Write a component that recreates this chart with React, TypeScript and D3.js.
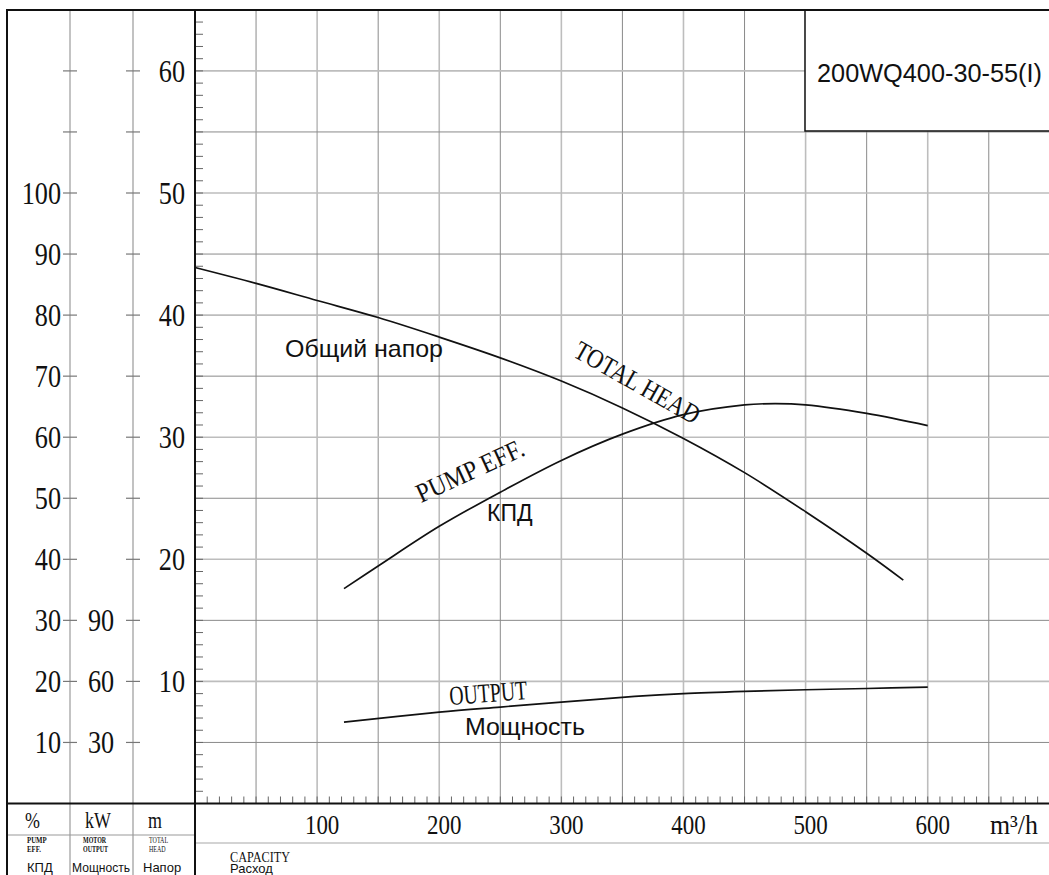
import React from 'react';
import * as d3 from 'd3';

// ---- data ----
const flowTicks = [100, 200, 300, 400, 500, 600];
const headTicks = [10, 20, 30, 40, 50, 60];
const effTicks = [10, 20, 30, 40, 50, 60, 70, 80, 90, 100];
const powerTicks = [30, 60, 90];
const sideTickPct = [10, 20, 30, 40, 50, 60, 70, 80, 90, 100, 110, 120];

const headFlow = [0, 50, 100, 150, 200, 250, 300, 350, 400, 450, 500, 550, 580];
const headValues = [43.9, 42.6, 41.2, 39.8, 38.2, 36.5, 34.6, 32.4, 29.9, 27.1, 23.9, 20.5, 18.3];

const effFlow = [122, 150, 200, 250, 300, 350, 400, 450, 475, 500, 550, 600];
const effValues = [35.2, 38.9, 45.4, 51.0, 56.2, 60.5, 63.7, 65.3, 65.5, 65.3, 63.9, 61.9];

const powerFlow = [122, 200, 250, 300, 360, 400, 450, 500, 550, 600];
const powerValues = [40.0, 44.9, 47.4, 49.8, 52.6, 54.0, 55.1, 55.9, 56.5, 57.2];

const modelName = '200WQ400-30-55(I)';

// ---- layout ----
const W = 1049;
const H = 875;
const LEFT = 195;
const BASE = 803.5;
const TOP = 10;
const PX_Q = 1.2212;
const PX_M = 12.21;

const SERIF = 'Liberation Serif, DejaVu Serif, serif';
const SANS = 'Liberation Sans, Arial, sans-serif';

const x = d3.scaleLinear().domain([0, 700]).range([LEFT, LEFT + 700 * PX_Q]);
const yHead = d3.scaleLinear().domain([0, 65]).range([BASE, BASE - 65 * PX_M]);
const yEff = d3.scaleLinear().domain([0, 130]).range([BASE, BASE - 65 * PX_M]);
const yPow = d3.scaleLinear().domain([0, 390]).range([BASE, BASE - 65 * PX_M]);

function ST(props: { x: number; y: number; sx?: number; size: number; anchor?: string; weight?: any; rot?: number; family?: string; len?: number; children: any }) {
  const { sx = 1, anchor = 'start', weight = 'normal', rot = 0, family = SERIF, len } = props;
  return (
    <text
      transform={`translate(${props.x},${props.y}) rotate(${rot}) scale(${sx},1)`}
      textAnchor={anchor}
      fontSize={props.size}
      fontWeight={weight}
      fontFamily={family}
      fill="#111"
      textLength={len}
      lengthAdjust={len ? 'spacingAndGlyphs' : undefined}
    >
      {props.children}
    </text>
  );
}

export default function App() {
  const headPts = headFlow.map((q, i) => [x(q), yHead(headValues[i])] as [number, number]);
  const effPts = effFlow.map((q, i) => [x(q), yEff(effValues[i])] as [number, number]);
  const powPts = powerFlow.map((q, i) => [x(q), yPow(powerValues[i])] as [number, number]);
  const line = d3.line().curve(d3.curveCatmullRom.alpha(0.5));

  const vGrid = d3.range(50, 701, 50);
  const hGrid = d3.range(5, 61, 5);
  const minorM = d3.range(1, 65, 1);
  const minorQ = d3.range(10, 700, 10);

  return (
    <svg width={W} height={H} style={{ position: 'absolute', left: 0, top: 0, background: '#fff' }}>
      <rect x={0} y={0} width={W} height={H} fill="#fff" />
      {/* grid */}
      {vGrid.map((q) => (
        <line key={'v' + q} x1={x(q)} x2={x(q)} y1={TOP} y2={BASE} stroke={q % 100 === 0 ? '#bdbdbd' : '#8a8a8a'} strokeWidth={q % 100 === 0 ? 1.6 : 1} />
      ))}
      {hGrid.map((m) => (
        <line key={'h' + m} x1={LEFT} x2={W} y1={yHead(m)} y2={yHead(m)} stroke={m % 10 === 0 ? '#bdbdbd' : '#8a8a8a'} strokeWidth={m % 10 === 0 ? 1.6 : 1} />
      ))}
      {/* minor ticks */}
      {minorM.map((m) => (
        <line key={'mm' + m} x1={LEFT} x2={LEFT + 8} y1={yHead(m)} y2={yHead(m)} stroke="#666" strokeWidth={1} />
      ))}
      {minorQ.map((q) => (
        <line key={'mq' + q} x1={x(q)} x2={x(q)} y1={BASE} y2={BASE - 7} stroke="#666" strokeWidth={1} />
      ))}

      {/* left panel */}
      <line x1={70} x2={70} y1={TOP} y2={H} stroke="#aaa" strokeWidth={1.4} />
      <line x1={133} x2={133} y1={TOP} y2={H} stroke="#999" strokeWidth={1.2} />
      {sideTickPct.map((p) => (
        <g key={'st' + p}>
          <line x1={63} x2={77} y1={yEff(p)} y2={yEff(p)} stroke="#777" strokeWidth={1.2} />
          <line x1={126} x2={140} y1={yEff(p)} y2={yEff(p)} stroke="#777" strokeWidth={1.2} />
        </g>
      ))}
      {effTicks.map((p) => (
        <ST key={'e' + p} x={61} y={yEff(p) + 11} size={32} sx={0.82} anchor="end">{p}</ST>
      ))}
      {powerTicks.map((k) => (
        <ST key={'k' + k} x={101} y={yPow(k) + 11} size={32} sx={0.82} anchor="middle">{k}</ST>
      ))}
      {headTicks.map((m) => (
        <ST key={'m' + m} x={185} y={yHead(m) + 11} size={32} sx={0.82} anchor="end">{m}</ST>
      ))}

      {/* x axis labels */}
      {flowTicks.map((q) => (
        <ST key={'q' + q} x={x(q) + 5} y={834} size={28} sx={0.82} anchor="middle">{q}</ST>
      ))}
      <ST x={990} y={834} size={27} len={48}>m³/h</ST>

      {/* bottom header */}
      <line x1={7} x2={LEFT} y1={835} y2={835} stroke="#999" strokeWidth={1} />
      <line x1={LEFT} x2={W} y1={843} y2={843} stroke="#c4c4c4" strokeWidth={1.4} />
      <ST x={25} y={828} size={23} sx={0.78}>%</ST>
      <ST x={85} y={828} size={23} sx={0.78}>kW</ST>
      <ST x={148} y={828} size={23} sx={0.78}>m</ST>
      <ST x={27} y={843} size={8} sx={0.85} weight="bold">PUMP</ST>
      <ST x={27} y={852} size={8} sx={0.85} weight="bold">EFF.</ST>
      <ST x={83} y={843} size={8} sx={0.75} weight="bold">MOTOR</ST>
      <ST x={83} y={852} size={8} sx={0.75} weight="bold">OUTPUT</ST>
      <ST x={149} y={843} size={8} sx={0.75}>TOTAL</ST>
      <ST x={149} y={852} size={8} sx={0.75}>HEAD</ST>
      <ST x={27} y={872} size={13} family={SANS}>КПД</ST>
      <ST x={72} y={872} size={13} family={SANS} len={58}>Мощность</ST>
      <ST x={143} y={872} size={13} family={SANS}>Напор</ST>
      <ST x={230} y={862} size={15} len={60}>CAPACITY</ST>
      <ST x={230} y={873} size={13} family={SANS}>Расход</ST>

      {/* curves */}
      <path d={line(headPts) || ''} fill="none" stroke="#111" strokeWidth={1.7} />
      <path d={line(effPts) || ''} fill="none" stroke="#111" strokeWidth={1.7} />
      <path d={line(powPts) || ''} fill="none" stroke="#111" strokeWidth={1.7} />

      {/* curve labels */}
      <ST x={285} y={357} size={24} family={SANS} len={158}>Общий напор</ST>
      <ST x={572} y={356} size={27} rot={29.5} len={140}>TOTAL HEAD</ST>
      <ST x={421} y={503} size={27} rot={-24.6} len={116}>PUMP EFF.</ST>
      <ST x={487} y={521} size={23} family={SANS}>КПД</ST>
      <ST x={450} y={705} size={27} rot={-4.4} len={78}>OUTPUT</ST>
      <ST x={465} y={735} size={24} family={SANS} len={120}>Мощность</ST>

      {/* title box */}
      <rect x={805} y={TOP} width={W - 805 + 2} height={131 - TOP} fill="#fff" stroke="#111" strokeWidth={1.5} />
      <ST x={817} y={82} size={26} family={SANS} len={225}>{modelName}</ST>

      {/* frame */}
      <line x1={7} x2={W} y1={TOP} y2={TOP} stroke="#111" strokeWidth={2} />
      <line x1={7} x2={7} y1={TOP - 1} y2={H} stroke="#111" strokeWidth={2} />
      <line x1={LEFT} x2={LEFT} y1={TOP - 1} y2={H} stroke="#111" strokeWidth={2} />
      <line x1={7} x2={W} y1={BASE} y2={BASE} stroke="#111" strokeWidth={2} />
    </svg>
  );
}
